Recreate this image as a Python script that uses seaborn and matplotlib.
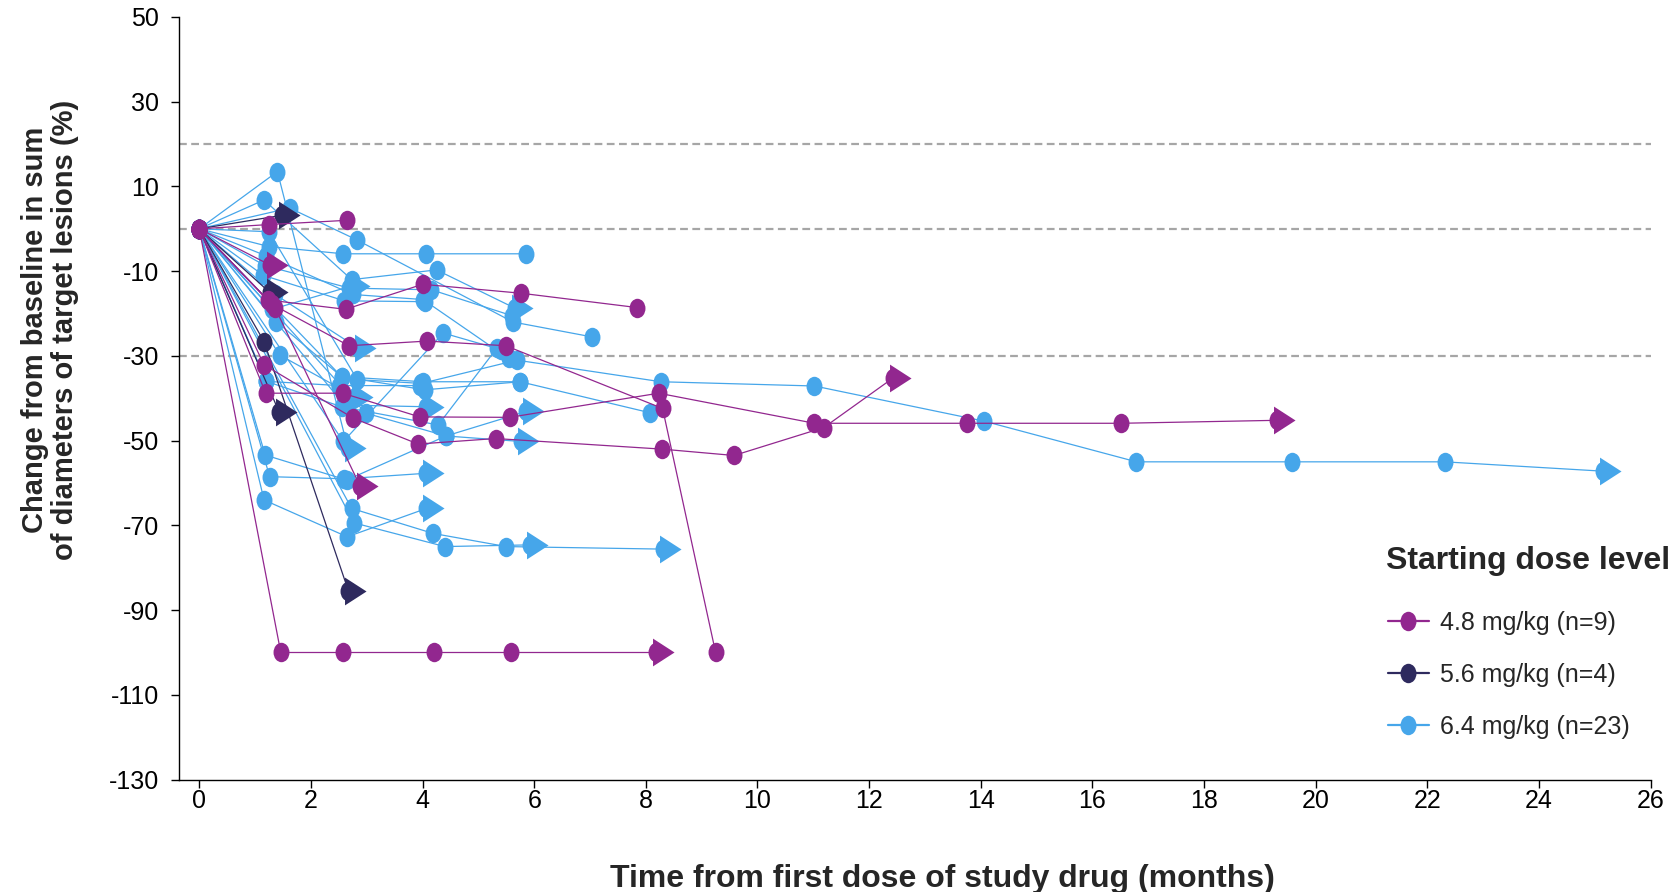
import numpy as np
import pandas as pd
import matplotlib.pyplot as plt
import seaborn as sns
from matplotlib.path import Path
from matplotlib.lines import Line2D
from matplotlib.transforms import Affine2D

# --- data (months, % change), one list per patient ---
# 4.8 mg/kg
t48 = [[0, 1.25, 2.64],
       [0, 1.26],
       [0, 1.23, 2.62, 4.0, 5.76, 7.85],
       [0, 1.30, 2.68, 4.08, 5.49, 8.30, 9.25],
       [0, 1.16, 2.76, 3.92, 5.31, 8.29, 9.58, 11.19, 12.43],
       [0, 1.19, 2.57, 3.95, 5.56, 8.23, 11.02, 13.76, 16.52, 19.31],
       [0, 1.46, 2.57, 4.2, 5.58, 8.18],
       [0, 1.36, 2.88]]
c48 = [[0, 1, 2],
       [0, -8.5],
       [0, -16.8, -19, -13.1, -15.2, -18.6],
       [0, -17.8, -27.6, -26.5, -27.6, -42.4, -100],
       [0, -32.1, -44.7, -50.8, -49.5, -52, -53.5, -46.9, -35.2],
       [0, -38.8, -38.8, -44.4, -44.5, -38.8, -45.9, -45.9, -45.9, -45.2],
       [0, -100, -100, -100, -100, -100],
       [0, -18.7, -60.7]]
on48 = [False, True, False, False, True, True, True, True]

# 5.6 mg/kg
t56 = [[0, 1.49], [0, 1.26], [0, 1.16, 2.67], [0, 1.43]]
c56 = [[0, 3.2], [0, -15], [0, -26.6, -85.4], [0, -43.2]]
on56 = [True, True, True, True]

# 6.4 mg/kg
t64 = [[0, 1.40, 2.66],
       [0, 1.16, 2.73, 4.25, 5.65],
       [0, 1.62, 2.82, 5.62, 7.03],
       [0, 1.25, 2.58, 4.06, 5.85],
       [0, 1.25, 2.83, 3.98, 5.69, 8.27, 11.02, 14.06, 16.79, 19.58, 22.31, 25.14],
       [0, 1.20, 2.75, 4.01, 5.54],
       [0, 1.18, 2.69, 4.16, 5.60],
       [0, 1.36, 2.85],
       [0, 1.30, 2.73],
       [0, 1.38, 2.55, 4.04, 5.75, 8.07],
       [0, 1.44, 2.79],
       [0, 1.20, 2.55, 4.28, 5.33],
       [0, 1.18, 2.64, 4.42, 5.86],
       [0, 1.26, 2.60, 4.07],
       [0, 1.16, 2.65, 4.07],
       [0, 2.73, 4.19, 5.50, 8.31],
       [0, 2.77, 4.40, 5.92],
       [0, 2.60, 4.07],
       [0, 2.98, 4.42, 5.77],
       [0, 2.58, 4.37, 5.40],
       [0, 2.55, 4.01, 5.75],
       [0, 1.15, 2.60, 4.05],
       [0, 1.20, 2.50, 3.95]]
c64 = [[0, 13.5, -51.7],
       [0, 6.8, -12, -9.7, -18.7],
       [0, 4.9, -2.6, -22, -25.5],
       [0, -4.2, -5.9, -5.9, -5.9],
       [0, -0.7, -35.6, -36.5, -31, -36.1, -37.1, -45.4, -55, -55, -55, -57.2],
       [0, -6.4, -15.5, -16.7, -30.6],
       [0, -8.7, -14, -14.4, -20.5],
       [0, -15.5, -28.2],
       [0, -19, -13.5],
       [0, -21.9, -34.9, -38, -36.1, -43.4],
       [0, -29.8, -39.6],
       [0, -36, -42, -46.3, -28.2],
       [0, -53.4, -59.3, -48.9, -43.1],
       [0, -58.5, -59, -57.7],
       [0, -64, -72.7, -66],
       [0, -66, -71.9, -75, -75.6],
       [0, -69.4, -75, -74.6],
       [0, -41.6, -42],
       [0, -43.5, -48.9, -50.2],
       [0, -50.2, -24.6, -28.5],
       [0, -34.9, -36.1, -36.1],
       [0, -11, -17, -17.2],
       [0, -36, -37, -37]]
on64 = [True, True, False, False, True, False, False, True, True, False, True, False,
        True, True, True, True, True, True, True, False, False, False, False]

doses = ["4.8 mg/kg (n=9)", "5.6 mg/kg (n=4)", "6.4 mg/kg (n=23)"]
colors = ["#92278f", "#2e2a5e", "#46a6ea"]
ref_lines = [20, 0, -30]

rows = []
pid = 0
for dose, ts, cs, ons in zip(doses, [t48, t56, t64], [c48, c56, c64], [on48, on56, on64]):
    for t, c, on in zip(ts, cs, ons):
        for i, (tt, cc) in enumerate(zip(t, c)):
            rows.append(dict(patient=pid, dose=dose, month=tt, change=cc,
                             arrow=on and i == len(t) - 1))
        pid += 1
df = pd.DataFrame(rows)

sns.set_style("ticks")
plt.rcParams['font.family'] = ['Liberation Sans', 'DejaVu Sans']
plt.rcParams['axes.unicode_minus'] = False

ellipse = Path.unit_circle().transformed(Affine2D().scale(0.82, 1.0))
tri = Path([(-0.25, -1), (1.3, 0), (-0.25, 1), (-0.25, -1)],
           [Path.MOVETO, Path.LINETO, Path.LINETO, Path.CLOSEPOLY])

fig = plt.figure(figsize=(16.72, 8.92), dpi=100)
ax = fig.add_axes([0.107, 0.126, 0.8802, 0.855])

for y in ref_lines:
    ax.axhline(y, color="#a6a6a6", lw=1.6, ls=(0, (3.5, 2)), zorder=1)

# draw blue first, purple on top
for k, z in zip([2, 1, 0], [2, 3, 4]):
    sub = df[df["dose"] == doses[k]]
    sns.lineplot(data=sub, x="month", y="change", units="patient", estimator=None,
                 color=colors[k], lw=0.9, marker=ellipse, markersize=14,
                 markeredgewidth=0, ax=ax, zorder=z, legend=False)
    ends = sub[sub["arrow"]]
    sns.scatterplot(data=ends, x="month", y="change", color=colors[k], marker=tri,
                    s=26 ** 2, linewidth=0, ax=ax, zorder=z + 0.5, legend=False)

ax.set_xlim(-0.365, 26)
ax.set_ylim(-130, 50)
ax.set_xticks(range(0, 27, 2))
ax.set_yticks(range(-130, 51, 20))
ax.tick_params(labelsize=18, length=5.5, width=1, colors="black")
ax.tick_params(axis="y", pad=9)
ax.tick_params(axis="x", pad=1)
sns.despine(ax=ax)
for s in ["left", "bottom"]:
    ax.spines[s].set_linewidth(1)
    ax.spines[s].set_color("black")

ax.set_ylabel("Change from baseline in sum\nof diameters of target lesions (%)",
              fontsize=21, fontweight="bold", linespacing=1.1, va="center")
ax.yaxis.set_label_coords(-0.0875, 0.59)
ax.set_xlabel("Time from first dose of study drug (months)", fontsize=23,
              fontweight="bold", va="center")
ax.xaxis.set_label_coords(0.519, -0.13)

handles = [Line2D([], [], color=c, lw=1.6, marker=ellipse, markersize=14,
                  markeredgewidth=0) for c in colors]
fig.text(0.829, 0.3708, "Starting dose level", fontsize=23, fontweight="bold",
         ha="left", va="center")
ax.legend(handles, doses, loc="upper left", bbox_to_anchor=(0.830, 0.3155),
          bbox_transform=fig.transFigure, frameon=False, fontsize=18,
          handlelength=1.63, handletextpad=0.45, labelspacing=1.13,
          borderpad=0, borderaxespad=0)

fig.savefig("out.png", dpi=100)
